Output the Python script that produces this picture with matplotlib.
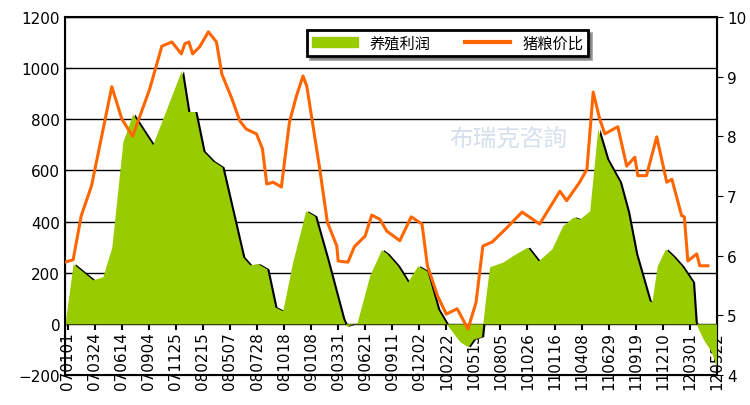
import matplotlib.pyplot as plt
import numpy as np

# x positions are in units of tick index (0 = 070101, 24 = 120522)
tick_labels = ['070101', '070324', '070614', '070904', '071125', '080215', '080507',
               '080728', '081018', '090108', '090331', '090621', '090911', '091202',
               '100222', '100515', '100805', '101026', '110116', '110408', '110629',
               '110919', '111210', '120301', '120522']

profit_x = [-0.1, 0.2, 0.93, 1.3, 1.63, 2.04, 2.4, 3.14, 4.2, 4.44, 4.7, 5.0, 5.36, 5.7,
            6.47, 6.73, 7.03, 7.36, 7.66, 7.95, 8.32, 8.8, 9.13, 9.58, 10.17, 10.3, 10.7,
            11.17, 11.6, 11.8, 12.2, 12.57, 12.94, 13.28, 13.68, 14.0, 14.5, 14.8, 15.0,
            15.3, 15.45, 15.6, 16.1, 16.5, 17.0, 17.4, 17.9, 18.3, 18.7, 18.93, 19.3,
            19.6, 19.93, 20.4, 20.7, 21.0, 21.5, 21.6, 21.8, 22.1, 22.37, 22.7, 23.1,
            23.2, 23.5, 23.8, 24.0]
profit = [0, 235, 172, 184, 300, 712, 820, 700, 990, 830, 830, 676, 637, 614,
          262, 231, 235, 215, 66, 51, 242, 442, 422, 254, 20, -10, 5,
          190, 290, 275, 227, 164, 227, 207, 58, 0, -70, -90, -60,
          -50, 100, 223, 242, 270, 300, 246, 293, 383, 418, 410, 442,
          762, 645, 555, 438, 274, 90, 86, 227, 293, 266, 227, 164,
          8, -60, -110, -170]

ratio_x = [-0.2, 0.2, 0.5, 0.88, 1.63, 2.0, 2.4, 3.03, 3.48, 3.85, 4.2, 4.33, 4.48, 4.62,
           4.88, 5.2, 5.5, 5.7, 6.07, 6.36, 6.6, 6.98, 7.2, 7.36, 7.6, 7.9, 8.2, 8.46,
           8.7, 8.84, 9.32, 9.6, 9.95, 10.0, 10.36, 10.6, 11.0, 11.24, 11.54, 11.8,
           12.28, 12.7, 13.1, 13.3, 13.68, 14.0, 14.4, 14.8, 15.1, 15.35, 15.7, 16.2,
           16.8, 17.45, 18.2, 18.45, 18.93, 19.2, 19.43, 19.67, 19.86, 20.34, 20.67,
           20.97, 21.08, 21.4, 21.78, 22.15, 22.34, 22.7, 22.8, 22.93, 23.26, 23.37, 23.67]
ratio = [5.88, 5.93, 6.67, 7.17, 8.83, 8.29, 8.0, 8.79, 9.51, 9.58, 9.38, 9.55, 9.58, 9.38,
         9.5, 9.75, 9.58, 9.04, 8.63, 8.26, 8.12, 8.04, 7.79, 7.2, 7.23, 7.15, 8.24, 8.68,
         9.01, 8.84, 7.45, 6.56, 6.16, 5.91, 5.89, 6.15, 6.33, 6.68, 6.61, 6.41,
         6.25, 6.65, 6.53, 5.83, 5.32, 5.02, 5.11, 4.77, 5.22, 6.16, 6.23, 6.45,
         6.73, 6.53, 7.08, 6.92, 7.23, 7.45, 8.74, 8.29, 8.04, 8.16, 7.5,
         7.65, 7.34, 7.34, 7.99, 7.23, 7.28, 6.67, 6.65, 5.91, 6.03, 5.83, 5.83]

green = '#99CC00'
orange = '#FF6600'

fig = plt.figure(figsize=(7.5, 4.06), dpi=100)
ax = fig.add_axes([0.0867, 0.0739, 0.869, 0.882])
px = np.array(profit_x)
ax.fill_between(px + 0.08, profit, 0, color='black', lw=0, zorder=2)
ax.fill_between(px, profit, 0, color=green, lw=0, zorder=3)
ax.set_xlim(-0.1, 24.0)
ax.set_ylim(-200, 1200)
ax.set_yticks(range(-200, 1201, 200))
ax.yaxis.grid(True, color='black', lw=1)
ax.set_axisbelow(True)
ax.set_xticks([])
ax.tick_params(axis='y', labelsize=11, direction='in', length=4)
for s in ax.spines.values():
    s.set_linewidth(1.5)

sec = ax.secondary_xaxis(200 / 1400)
sec.set_xticks(range(len(tick_labels)))
sec.set_xticklabels(tick_labels, rotation=90, fontsize=11)
sec.tick_params(direction='out', length=4, width=1.5, pad=1)
sec.spines['bottom'].set_visible(False)

ax2 = ax.twinx()
ax2.plot(ratio_x, ratio, color=orange, lw=2.2, zorder=4)
ax2.set_ylim(4, 10)
ax2.set_yticks(range(4, 11))
ax2.tick_params(axis='y', labelsize=11, direction='out', length=4)

ax.text(0.68, 0.66, '布瑞克咨詢', transform=ax.transAxes, fontsize=17,
        color='#d5e0ec', ha='center', va='center', family='Noto Sans CJK TC', zorder=1)

h1 = plt.Rectangle((0, 0), 1, 1, color=green)
h2 = plt.Line2D([], [], color=orange, lw=3)
leg = ax2.legend([h1, h2], ['养殖利润', '猪粮价比'], loc='upper left',
                 bbox_to_anchor=(0.36, 0.985), ncol=2, fancybox=False, shadow=True,
                 framealpha=1, edgecolor='black', prop={'family': 'Noto Sans CJK SC', 'size': 11},
                 borderpad=0.3, columnspacing=2.2, handlelength=3.0)
leg.get_frame().set_linewidth(2)

fig.savefig('out.png', dpi=100)
